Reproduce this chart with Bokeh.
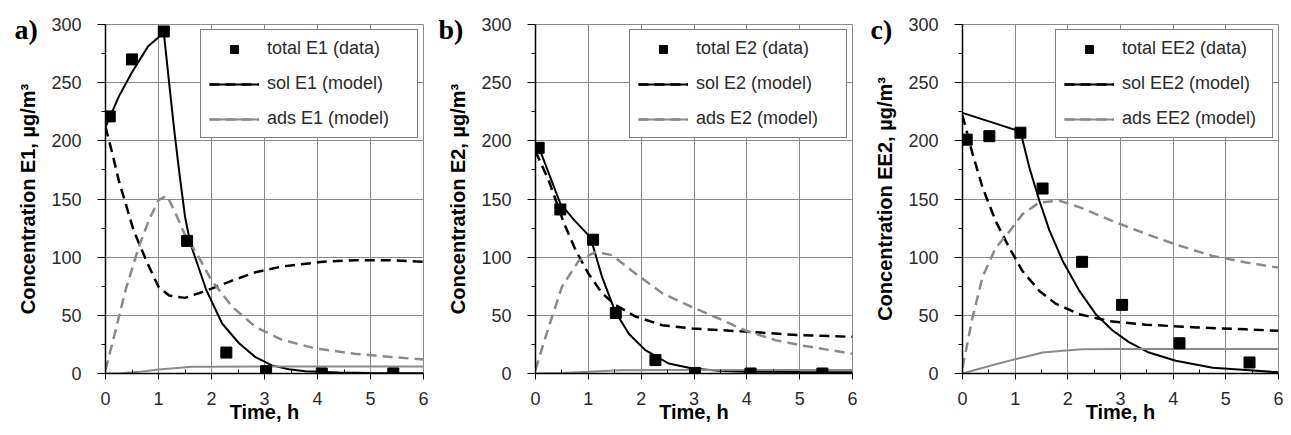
from bokeh.plotting import figure
from bokeh.layouts import row
from bokeh.models import Range1d, FixedTicker, Legend, LegendItem
from bokeh.embed import file_html
from bokeh.resources import INLINE

# ---------------- data ----------------
x_ticks = [0, 1, 2, 3, 4, 5, 6]
y_ticks = [0, 50, 100, 150, 200, 250, 300]

# Panel a) E1
a_data_t = [0.08, 0.5, 1.1, 1.54, 2.28, 3.03, 4.08, 5.43]
a_data_v = [221, 270, 294, 114, 18, 2, 0, 0]
a_tot_t = [0, 0.08, 0.25, 0.5, 0.8, 1.1, 1.2, 1.3, 1.4, 1.5, 1.6, 1.75, 1.9, 2.2, 2.52, 2.83, 3.14, 3.46, 3.77, 4.4, 5.0, 6.0]
a_tot_v = [212, 220, 238, 259, 281, 293, 250, 208, 170, 135, 112, 92, 72, 43, 26, 14, 7, 3.7, 2, 0.8, 0.5, 0.3]
a_sol_t = [0, 0.13, 0.25, 0.53, 0.79, 1.0, 1.2, 1.5, 1.76, 2.0, 2.4, 2.83, 3.33, 4.1, 4.7, 5.35, 6.0]
a_sol_v = [212, 189, 166, 123, 95, 74.5, 67, 65, 69, 73, 80, 87, 92, 96, 97.4, 97.4, 96]
a_ads_t = [0, 0.19, 0.38, 0.63, 0.82, 1.0, 1.16, 1.32, 1.5, 1.76, 2.0, 2.4, 2.83, 3.33, 3.96, 4.7, 5.35, 6.0]
a_ads_v = [3, 37, 72, 109, 132, 149, 153, 138, 119, 100, 80, 57, 40, 29, 21.5, 17, 14.3, 12]
a_adl_t = [0, 0.3, 0.63, 1.0, 1.3, 1.63, 2.0, 3.0, 4.0, 5.0, 6.0]
a_adl_v = [0, 0.3, 1.4, 3.4, 4.6, 5.7, 5.9, 6, 6, 6, 6]

# Panel b) E2
b_data_t = [0.06, 0.47, 1.09, 1.52, 2.27, 3.02, 4.07, 5.43]
b_data_v = [194, 141, 115, 52, 11.5, 0.5, 0, 0]
b_tot_t = [0, 0.1, 0.47, 0.75, 1.04, 1.26, 1.51, 1.77, 2.08, 2.52, 2.97, 3.47, 4.0, 5.0, 6.0]
b_tot_v = [196, 190, 146, 131, 117, 83, 53, 34, 20, 8.6, 4.3, 2.3, 1.5, 1.2, 1]
b_sol_t = [0, 0.25, 0.54, 0.76, 1.0, 1.26, 1.51, 1.89, 2.4, 2.97, 3.97, 4.98, 6.0]
b_sol_v = [191, 166, 129, 106, 86, 69, 59, 49, 41.5, 38.7, 36, 33, 31.5]
b_ads_t = [0, 0.19, 0.5, 0.82, 1.14, 1.45, 1.89, 2.4, 2.97, 3.53, 3.97, 4.54, 5.05, 6.0]
b_ads_v = [3, 31.5, 74.5, 97, 104.6, 101.7, 86, 69, 57, 46, 37, 28.7, 24, 17]
b_adl_t = [0, 0.5, 1.0, 1.6, 2.5, 4.0, 6.0]
b_adl_v = [0, 0.5, 1.5, 2.8, 3, 3, 3]

# Panel c) EE2
c_data_t = [0.08, 0.51, 1.1, 1.52, 2.27, 3.03, 4.12, 5.45]
c_data_v = [201, 204, 207, 159, 96, 59, 26, 9.5]
c_tot_t = [0, 1.1, 1.27, 1.46, 1.65, 1.9, 2.22, 2.53, 2.85, 3.16, 3.54, 4.05, 4.75, 5.38, 6.0]
c_tot_v = [224, 208, 177, 148.5, 123, 97, 71, 51, 37, 27, 18, 11, 5, 3, 1]
c_sol_t = [0, 0.19, 0.38, 0.63, 0.89, 1.14, 1.46, 1.77, 2.22, 2.78, 3.48, 4.43, 5.38, 6.0]
c_sol_v = [222, 189, 160, 131, 108, 88, 71, 60, 51, 45, 42, 39.6, 38, 36.7]
c_ads_t = [0, 0.19, 0.38, 0.63, 0.89, 1.14, 1.46, 1.84, 2.22, 2.85, 3.48, 4.11, 4.75, 5.38, 6.0]
c_ads_v = [5, 48, 83, 108, 122, 137, 147, 148.5, 143, 131, 120, 110, 101, 95.5, 91]
c_adl_t = [0, 0.63, 1.14, 1.52, 1.9, 2.28, 3.0, 4.0, 5.0, 6.0]
c_adl_v = [0, 8, 13.8, 18, 19.5, 20.8, 21, 21, 21, 21]

panels = [
    dict(letter="a)", name="E1", data=(a_data_t, a_data_v), tot=(a_tot_t, a_tot_v),
         sol=(a_sol_t, a_sol_v), ads=(a_ads_t, a_ads_v), adl=(a_adl_t, a_adl_v),
         bl=105, br=10, loff=-91, w=433),
    dict(letter="b)", name="E2", data=(b_data_t, b_data_v), tot=(b_tot_t, b_tot_v),
         sol=(b_sol_t, b_sol_v), ads=(b_ads_t, b_ads_v), adl=(b_adl_t, b_adl_v),
         bl=102, br=6, loff=-97, w=425),
    dict(letter="c)", name="EE2", data=(c_data_t, c_data_v), tot=(c_tot_t, c_tot_v),
         sol=(c_sol_t, c_sol_v), ads=(c_ads_t, c_ads_v), adl=(c_adl_t, c_adl_v),
         bl=104, br=12, loff=-92, w=432),
]

FONT = "Liberation Sans"
GRAY = "#8a8a8a"


def make_panel(cfg):
    p = figure(width=cfg["w"], height=434, output_backend="svg", toolbar_location=None,
               x_range=Range1d(0, 6), y_range=Range1d(0, 300),
               min_border_left=cfg["bl"], min_border_right=cfg["br"],
               min_border_top=24, min_border_bottom=61)
    p.background_fill_color = "white"
    p.border_fill_color = "white"
    p.outline_line_color = GRAY
    p.outline_line_width = 1

    # panel letter as title drawn down beside the top tick label
    p.title.text = cfg["letter"]
    p.title.align = "left"
    p.title.offset = cfg["loff"]
    p.title.standoff = -40
    p.title.text_font = "Liberation Serif"
    p.title.text_font_style = "bold"
    p.title.text_font_size = "28px"
    p.title.text_color = "black"

    p.xaxis.ticker = FixedTicker(ticks=x_ticks, minor_ticks=[0.5, 1.5, 2.5, 3.5, 4.5, 5.5])
    p.yaxis.ticker = FixedTicker(ticks=y_ticks, minor_ticks=[25, 75, 125, 175, 225, 275])
    for g in p.grid:
        g.grid_line_color = GRAY
        g.grid_line_width = 1

    for ax in (p.xaxis[0], p.yaxis[0]):
        ax.axis_line_color = "black"
        ax.axis_line_width = 1.5
        ax.major_tick_line_color = "black"
        ax.minor_tick_line_color = "black"
        ax.major_label_text_font = FONT
        ax.major_label_text_font_size = "18px"
        ax.major_label_text_color = "#2a2a2a"
        ax.axis_label_text_font = FONT
        ax.axis_label_text_font_style = "bold"
        ax.axis_label_text_font_size = "20px"
        ax.axis_label_text_color = "black"

    xa = p.xaxis[0]
    xa.major_tick_in = 0
    xa.major_tick_out = 6
    xa.minor_tick_in = 4
    xa.minor_tick_out = 0
    xa.major_label_standoff = 12
    xa.axis_label = "Time, h"
    xa.axis_label_standoff = -7

    ya = p.yaxis[0]
    ya.major_tick_in = 0
    ya.major_tick_out = 8
    ya.minor_tick_in = 0
    ya.minor_tick_out = 4
    ya.major_label_standoff = 16
    ya.axis_label = "Concentration %s, µg/m³" % cfg["name"]
    ya.axis_label_standoff = 9

    r_tot = p.line(cfg["tot"][0], cfg["tot"][1], line_color="black", line_width=2)
    r_sol = p.line(cfg["sol"][0], cfg["sol"][1], line_color="black", line_width=2.5, line_dash="10 6")
    r_adl = p.line(cfg["adl"][0], cfg["adl"][1], line_color=GRAY, line_width=2)
    r_ads = p.line(cfg["ads"][0], cfg["ads"][1], line_color=GRAY, line_width=2.5, line_dash="10 6")
    r_dat = p.scatter(cfg["data"][0], cfg["data"][1], marker="square", size=11,
                      fill_color="black", line_color="black")

    legend = Legend(items=[
        LegendItem(label="total %s (data)" % cfg["name"], renderers=[r_dat]),
        LegendItem(label="sol %s (model)" % cfg["name"], renderers=[r_tot, r_sol]),
        LegendItem(label="ads %s (model)" % cfg["name"], renderers=[r_adl, r_ads]),
    ], location="top_right")
    legend.margin = 5
    legend.padding = 8
    legend.spacing = 14
    legend.glyph_width = 50
    legend.glyph_height = 20
    legend.label_height = 20
    legend.label_standoff = 8
    legend.label_width = 142
    legend.label_text_font = FONT
    legend.label_text_font_size = "18px"
    legend.label_text_color = "#2a2a2a"
    legend.border_line_color = "black"
    legend.border_line_width = 1.5
    legend.background_fill_color = "white"
    legend.background_fill_alpha = 1.0
    p.add_layout(legend)
    return p


figs = [make_panel(c) for c in panels]
layout = row(*figs, spacing=0)

open("out.html", "w").write(file_html(layout, INLINE))
